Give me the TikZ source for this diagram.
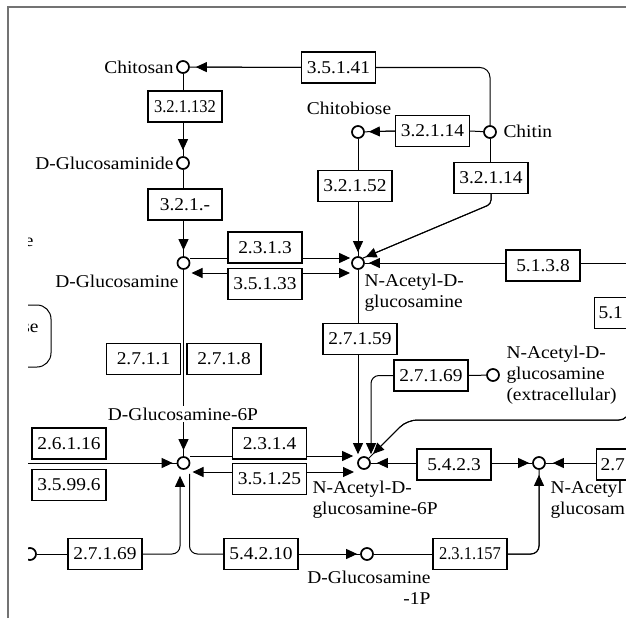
\documentclass[tikz,border=0pt]{standalone}
\usepackage{fontspec}
\setmainfont{Liberation Serif}[FakeStretch=1.08]
\usepackage{graphicx}
\usepackage{tikz}
\usetikzlibrary{arrows.meta,positioning}

\tikzset{
  cpd/.style={circle, draw, line width=1.7pt, fill=white, minimum size=12pt, inner sep=0pt},
  ec/.style={rectangle, draw, line width=1.2pt, fill=white, minimum width=74pt, minimum height=31pt, inner sep=0pt},
  lbl/.style={inner sep=0pt, align=left},
  arr/.style={-{Triangle[length=11pt,width=10pt]}},
  tocpd/.style={arr, shorten >=#1, postaction={draw, -, shorten >=0pt}},
  tocpd/.default=4pt,
}

\begin{document}
\begin{tikzpicture}[x=1pt, y=-1pt, line width=1pt, font=\fontsize{18}{21}\selectfont]
\useasboundingbox (0,0) rectangle (626,618);
\draw[black!55, line width=1.3pt] (8,618) -- (8,7) -- (626,7);
\begin{scope}
\clip (28,8) rectangle (626,618);
% compounds
\node[cpd] (cts) at (183,67) {};
\node[cpd] (gmd) at (183,163) {};
\node[cpd] (glcn) at (183.5,263) {};
\node[cpd] (ctb) at (358,132) {};
\node[cpd] (ctn) at (490,132) {};
\node[cpd] (nag) at (358,263) {};
\node[cpd] (nagx) at (493,375) {};
\node[cpd] (gn6p) at (183.5,463) {};
\node[cpd] (nag6p) at (364,463) {};
\node[cpd] (nag1p) at (539,463) {};
\node[cpd] (gn1p) at (367,554) {};
\node[cpd] (lft) at (30,554) {};
% enzymes
\node[ec] (e35141) at (338.5,67.5) {3.5.1.41};
\node[ec] (e321132) at (185,106.5) {\scalebox{0.85}[1]{3.2.1.132}};
\node[ec] (e321x) at (185,204.5) {3.2.1.-};
\node[ec] (e32114a) at (432.5,131) {3.2.1.14};
\node[ec] (e32152) at (355,186) {3.2.1.52};
\node[ec] (e32114b) at (491,178) {3.2.1.14};
\node[ec] (e2313) at (265,247.5) {2.3.1.3};
\node[ec] (e35133) at (265,284) {3.5.1.33};
\node[ec] (e5138) at (543,265.5) {5.1.3.8};
\node[ec, anchor=west, text width=66pt, inner xsep=4pt] (e51) at (594,313) {5.1};
\node[ec] (e2711) at (143.5,359) {2.7.1.1};
\node[ec] (e2718) at (224,359) {2.7.1.8};
\node[ec] (e27159) at (360,339) {2.7.1.59};
\node[ec] (e27169a) at (431,375.5) {2.7.1.69};
\node[ec] (e26116) at (69,443.5) {2.6.1.16};
\node[ec] (e35996) at (69,485) {3.5.99.6};
\node[ec] (e2314) at (269.5,443.5) {2.3.1.4};
\node[ec] (e35125) at (269.5,479) {3.5.1.25};
\node[ec] (e27169b) at (105,554) {2.7.1.69};
\node[ec] (e54210) at (261,554) {5.4.2.10};
\node[ec] (e5423) at (454,464.5) {5.4.2.3};
\node[ec, anchor=west, text width=66pt, inner xsep=4pt] (e27) at (596,464.5) {2.7};
\node[ec] (e231157) at (470,554) {\scalebox{0.85}[1]{2.3.1.157}};
% loose ends
\coordinate (r1) at (640,263);
\coordinate (r2) at (629,396);
\coordinate (l1) at (20,463);
% top part
\draw[tocpd=6pt] (e35141.west) -- (cts);
\draw[rounded corners=10pt] (e35141.east) -| (ctn);
\draw (cts) -- (cts |- e321132.north);
\draw[tocpd=6pt] (e321132.south -| gmd) -- (gmd);
\draw (gmd) -- (gmd |- e321x.north);
\draw[tocpd=6pt] (e321x.south -| glcn) -- (glcn);
\draw (ctn) -- (e32114a.east);
\draw[tocpd] (e32114a.west) -- (ctb);
\draw (ctb) -- (ctb |- e32152.north);
\draw[tocpd] (e32152.south -| nag) -- (nag);
\draw (ctn) -- (ctn |- e32114b.north);
\draw[tocpd=3pt, rounded corners=4pt] (e32114b.south) -- ++(0,10) -- (nag.north east);
% D-Glucosamine <-> N-Acetyl-D-glucosamine
\draw ([yshift=5pt]glcn.east) -- ([yshift=5pt]glcn.east -| e2313.west);
\draw[arr] ([yshift=5pt]glcn.east -| e2313.east) -- ([shift={(-1pt,5pt)}]nag.west);
\draw[arr] ([yshift=-10pt]glcn.center -| e35133.west) -- ([shift={(8pt,-10pt)}]glcn.center);
\draw[arr] ([yshift=-10pt]glcn.center -| e35133.east) -- ([shift={(-8pt,-10pt)}]nag.center);
\draw[tocpd] (e5138.west |- nag) -- (nag);
\draw (e5138.east |- nag) -- (r1);
% down to the 6P
\draw (nag) -- (nag |- e27159.north);
\draw[arr] (e27159.south -| nag) -- ([shift={(-6pt,2pt)}]nag6p.north);
\draw (e27169a.east) -- (nagx);
\draw[arr, rounded corners=8pt] (e27169a.west) -| ([shift={(7pt,2pt)}]nag6p.north);
\draw[tocpd=6pt, rounded corners=10pt] (r2) |- (407,420) -- (nag6p.north east);
\draw[tocpd=6pt] (glcn) -- (gn6p);
\draw[tocpd] (l1) -- (gn6p);
% D-Glucosamine-6P <-> N-Acetyl-D-glucosamine-6P
\draw ([yshift=7pt]gn6p.east) -- ([yshift=7pt]gn6p.east -| e2314.west);
\draw[arr] ([yshift=7pt]gn6p.east -| e2314.east) -- ([shift={(-4pt,7pt)}]nag6p.west);
\draw[arr] ([yshift=-9pt]gn6p.center -| e35125.west) -- ([shift={(9pt,-9pt)}]gn6p.center);
\draw[arr] ([yshift=-9pt]gn6p.center -| e35125.east) -- ([shift={(-10pt,-9pt)}]nag6p.center);
\draw[tocpd=6pt] (e5423.west |- nag6p) -- (nag6p);
\draw[tocpd=3pt] (e5423.east |- nag6p) -- (nag1p);
\draw[tocpd=7pt] (e27.west |- nag1p) -- (nag1p);
% bottom row
\draw[tocpd=5pt, rounded corners=8pt] (e231157.east) -| (nag1p);
\draw (e231157.west) -- (gn1p);
\draw[tocpd=3pt] (e54210.east) -- (gn1p);
\draw[rounded corners=8pt] (e54210.west) -| ([shift={(6pt,-4pt)}]gn6p.south);
\draw (lft) -- (e27169b.west);
\draw[arr, rounded corners=8pt] (e27169b.east) -| ([shift={(-3.5pt,-6pt)}]gn6p.south);
% names
\node[lbl, anchor=east] (cts-l) at (174,67) {Chitosan};
\node[lbl, anchor=east] (gmd-l) at (174,163) {D-Glucosaminide};
\node[lbl, anchor=east] (glcn-l) at (179,281) {D-Glucosamine};
\node[lbl] (ctb-l) at (349,108) {Chitobiose};
\node[lbl, anchor=west] (ctn-l) at (503,131) {Chitin};
\node[lbl, anchor=west] (nag-l) at (364,293) {N-Acetyl-D-\\glucosamine};
\node[lbl, anchor=west] (nagx-l) at (506,375) {N-Acetyl-D-\\glucosamine\\(extracellular)};
\node[lbl, fill=white, inner ysep=2pt] (gn6p-l) at (183,414) {D-Glucosamine-6P};
\node[lbl, anchor=west] (nag6p-l) at (312,500) {N-Acetyl-D-\\glucosamine-6P};
\node[lbl, anchor=west] (nag1p-l) at (550,500) {N-Acetyl\\glucosam};
\node[lbl, anchor=east, align=right] (gn1p-l) at (431,588) {D-Glucosamine\\-1P};
\node[lbl, anchor=east] (e-l) at (34,242) {e};
\node[lbl, anchor=east] (se-l) at (39,328) {se};
\draw[rounded corners=14pt] (0,305) rectangle (51,367);
\end{scope}
\end{tikzpicture}
\end{document}
